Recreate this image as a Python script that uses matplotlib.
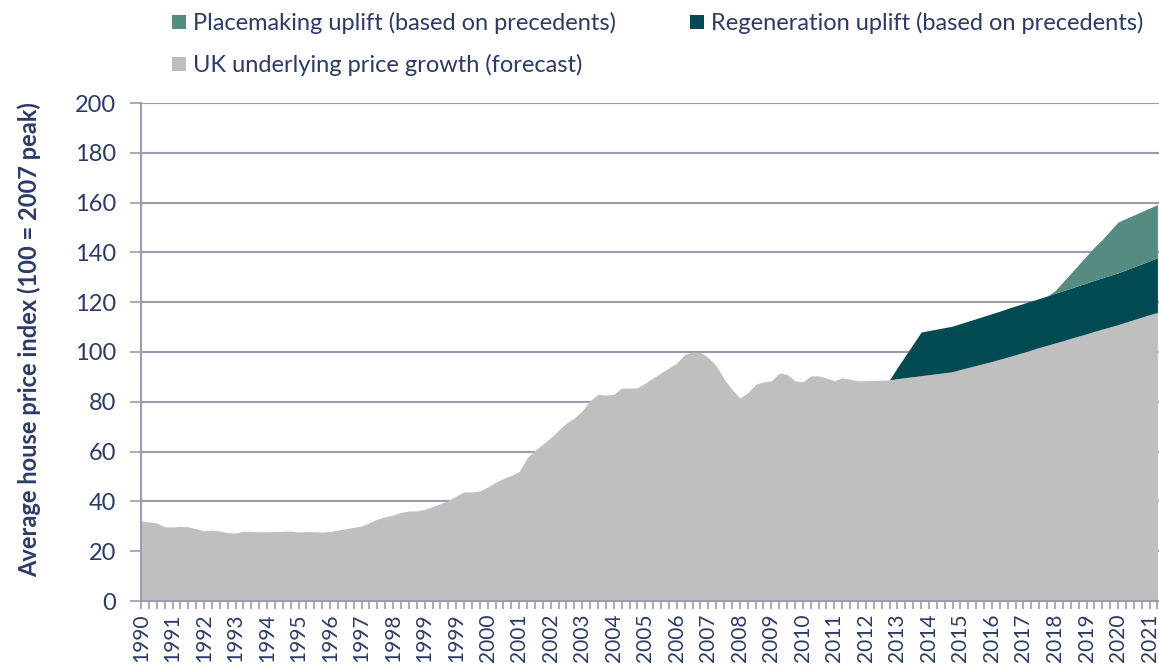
import matplotlib
matplotlib.use("Agg")
import matplotlib.pyplot as plt
from matplotlib.patches import Rectangle
import numpy as np

# ---- data (quarterly categories, 1990 Q1 onward) ----
tick_labels = ["1990", "1991", "1992", "1993", "1994", "1995", "1996", "1997", "1998",
               "1999", "1999", "2000", "2001", "2002", "2003", "2004", "2005", "2006",
               "2007", "2008", "2009", "2010", "2011", "2012", "2013", "2014", "2015",
               "2016", "2017", "2018", "2019", "2020", "2021"]

underlying = [32.1, 31.8, 31.3, 29.8, 29.7, 30.0, 29.8, 29.0, 28.2, 28.5,
              28.1, 27.4, 27.3, 28.0, 28.0, 27.8, 27.8, 27.9, 28.0, 28.1,
              27.7, 27.9, 27.8, 27.7, 27.9, 28.5, 29.0, 29.6, 30.1, 31.5,
              32.9, 33.8, 34.5, 35.6, 36.1, 36.2, 36.8, 37.9, 39.1, 40.4,
              42.2, 43.8, 43.8, 44.2, 45.8, 47.7, 49.2, 50.5, 52.0, 57.5,
              60.5, 63.0, 65.6, 68.6, 71.5, 73.5, 76.5, 80.5, 83.0, 82.7,
              83.0, 85.5, 85.5, 85.6, 87.5, 89.6, 91.6, 93.6, 95.6, 99.0,
              100.0, 99.8, 97.8, 94.5, 89.2, 85.0, 81.5, 83.6, 87.0, 88.0,
              88.4, 91.6, 91.0, 88.4, 88.0, 90.4, 90.4, 89.5, 88.5, 89.6,
              89.1, 88.4, 88.5, 88.6, 88.7, 88.8, 89.3, 89.7, 90.1, 90.5,
              90.9, 91.3, 91.7, 92.1, 93.0, 93.8, 94.6, 95.4, 96.2, 97.1,
              98.0, 98.9, 99.9, 100.8, 101.8, 102.7, 103.6, 104.5, 105.5, 106.4,
              107.3, 108.3, 109.2, 110.1, 111.0, 112.0, 113.0, 114.0, 115.0, 115.9]

regen_start = 95
regeneration = [0.0, 4.5, 8.8, 13.1, 17.5, 17.7, 17.9, 18.1, 18.3, 18.4,
                18.6, 18.8, 19.0, 19.2, 19.3, 19.5, 19.6, 19.6, 19.7, 19.7,
                19.8, 20.0, 20.1, 20.1, 20.3, 20.4, 20.5, 20.6, 20.7, 20.8,
                21.0, 21.2, 21.4, 21.6, 22.0]

place_start = 115
placemaking = [0.0, 1.0, 3.5, 6.0, 8.4, 10.9, 13.3, 15.4, 17.9, 20.4,
               20.6, 20.8, 21.0, 21.2, 21.3]

series_names = ["Placemaking uplift (based on precedents)",
                "Regeneration uplift (based on precedents)",
                "UK underlying price growth (forecast)"]
colors = {"place": "#548C81", "regen": "#024B52", "under": "#BFBFBF"}

# ---- build arrays ----
n = len(underlying)
x = np.arange(n)
base = np.array(underlying)
reg = np.zeros(n)
reg[regen_start:regen_start + len(regeneration)] = regeneration
plc = np.zeros(n)
plc[place_start:place_start + len(placemaking)] = placemaking

W, H = 1159, 671
fig = plt.figure(figsize=(W / 100, H / 100), dpi=100)
ax = fig.add_axes([141 / W, 1 - 601 / H, (1159 - 141) / W, (601 - 103) / H])

font = "Lato"
txt_col = "#2B3A67"
grid_col = "#9A9DB0"

ax.fill_between(x, 0, base, color=colors["under"], lw=0, zorder=2)
m = np.arange(n) >= regen_start
ax.fill_between(x[m], base[m], (base + reg)[m], color=colors["regen"], lw=0, zorder=2)
m2 = np.arange(n) >= place_start
ax.fill_between(x[m2], (base + reg)[m2], (base + reg + plc)[m2], color=colors["place"], lw=0, zorder=2)

ax.set_xlim(0, n - 1 + 0.2)
ax.set_ylim(0, 200)
ax.set_yticks(np.arange(0, 201, 20))
ax.yaxis.grid(True, color=grid_col, lw=1.5, zorder=1)
ax.set_axisbelow(True)

ax.set_xticks(np.arange(0, 4 * len(tick_labels), 4))
ax.set_xticklabels(tick_labels, rotation=90, fontsize=15, color=txt_col, family=font)
ax.set_xticks(x, minor=True)
ax.tick_params(axis="x", which="both", length=6, width=1.2, color=grid_col, direction="out", pad=3)
ax.tick_params(axis="y", length=8, width=1.2, color=grid_col, direction="out",
               labelsize=17, labelcolor=txt_col, pad=10)
for lab in ax.get_yticklabels():
    lab.set_family(font)

for s in ["top", "right"]:
    ax.spines[s].set_visible(False)
for s in ["left", "bottom"]:
    ax.spines[s].set_color(grid_col)
    ax.spines[s].set_linewidth(1.5)
    ax.spines[s].set_zorder(3)

ax.set_ylabel("Average house price index (100 = 2007 peak)", fontsize=17, fontweight="bold",
              color=txt_col, family=font)
ax.yaxis.set_label_coords(-100 / (1159 - 141), 0.525)

# ---- legend ----
entries = [(172, 15, colors["place"], series_names[0]),
           (690, 15, colors["regen"], series_names[1]),
           (172, 57, colors["under"], series_names[2])]
for px, py, c, name in entries:
    fig.patches.append(Rectangle((px / W, 1 - (py + 14) / H), 14 / W, 14 / H,
                                 transform=fig.transFigure, color=c, lw=0))
    fig.text((px + 21) / W, 1 - (py + 8) / H, name, fontsize=17, color=txt_col,
             family=font, va="center", ha="left")

fig.savefig("out.png", dpi=100)
